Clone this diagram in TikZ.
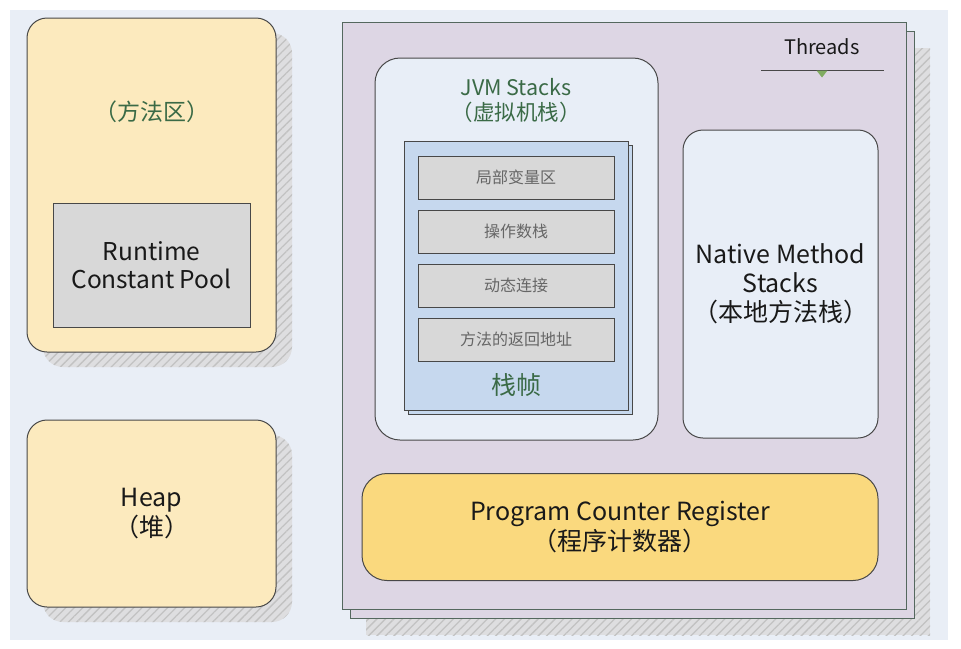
\documentclass[tikz,border=0pt]{standalone}
\usepackage{fontspec}
\setmainfont{Noto Sans CJK SC}
\usetikzlibrary{shadows,patterns.meta}
\definecolor{bgblue}{RGB}{233,238,246}
\definecolor{areayellow}{RGB}{252,234,190}
\definecolor{poolgray}{RGB}{216,216,216}
\definecolor{threadlilac}{RGB}{221,214,228}
\definecolor{stackwhite}{RGB}{232,238,247}
\definecolor{frameblue}{RGB}{198,216,238}
\definecolor{pcyellow}{RGB}{250,217,126}
\definecolor{labelgreen}{RGB}{58,106,70}
\definecolor{markgreen}{RGB}{128,172,96}
\definecolor{edgegray}{RGB}{72,72,72}
\definecolor{edgegreen}{RGB}{84,104,94}
\definecolor{hatchgray}{RGB}{222,222,224}

\begin{document}
\begin{tikzpicture}[x=1pt,y=-1pt,
  every node/.style={align=center,text=black!90,inner sep=0pt,font=\fontsize{25}{30}\selectfont},
  box/.style={draw=edgegray,line width=1pt},
  hatch/.style={general shadow={fill=hatchgray,#1},
    general shadow={pattern={Lines[angle=45,distance=6pt,line width=1.3pt]},pattern color=black!24,#1}},
  area/.style={box,fill=areayellow,rounded corners=20pt,hatch={shadow xshift=16pt,shadow yshift=-15pt}},
  threadbox/.style={draw=edgegreen,line width=1pt,fill=threadlilac,hatch={shadow xshift=24pt,shadow yshift=-26pt},
    copy shadow={shadow xshift=8pt,shadow yshift=-9pt}},
  stackbox/.style={box,fill=stackwhite,rounded corners=25pt},
  framebox/.style={box,fill=frameblue,copy shadow={shadow xshift=4pt,shadow yshift=-4pt}},
  slot/.style={box,fill=poolgray,minimum width=196pt,minimum height=43pt,text=black!60,font=\fontsize{16}{18}\selectfont},
  greenlabel/.style={text=labelgreen,font=\fontsize{23}{25}\selectfont}]
  \useasboundingbox (0,0) rectangle (961,648);
  \fill[bgblue] (10,10) rectangle (948,640);

  \node[area,minimum width=249pt,minimum height=334pt] (method) at (151.5,185) {};
  \node[greenlabel] (methodlbl) at (151.5,112) {（方法区）};
  \node[box,fill=poolgray,minimum width=197pt,minimum height=124pt,font=\fontsize{24.5}{28}\selectfont] (pool) at (151.5,265) {Runtime\\Constant Pool};
  \node[area,minimum width=249pt,minimum height=187pt] (heap) at (151.5,513.5) {Heap\\（堆）};

  \node[threadbox,minimum width=564pt,minimum height=587pt] (threads) at (624,315.5) {};
  \node[font=\fontsize{20}{22}\selectfont] (threadslbl) at (822,47) {Threads};
  \draw[edgegray,line width=1pt] (761,70) -- (884,70);
  \fill[markgreen] (816.5,70.5) -- (827.5,70.5) -- (822,77.5) -- cycle;

  \node[stackbox,minimum width=283pt,minimum height=382pt] (jvm) at (516.5,249) {};
  \node[greenlabel,font=\fontsize{21.5}{25}\selectfont] (jvmlbl) at (516,100) {JVM Stacks\\（虚拟机栈）};
  \node[framebox,minimum width=224pt,minimum height=269pt] (frame) at (516,275.5) {};
  \foreach \y/\t [count=\i] in {177.5/局部变量区,231.5/操作数栈,285.5/动态连接,339.5/方法的返回地址}
    \node[slot] (slot\i) at (516,\y) {\t};
  \node[greenlabel,font=\fontsize{25}{28}\selectfont] (framelbl) at (516,385) {栈帧};

  \node[stackbox,rounded corners=20pt,minimum width=195pt,minimum height=308pt,font=\fontsize{25}{29}\selectfont] (native) at (780.5,284) {Native Method\\Stacks\\（本地方法栈）};
  \node[box,fill=pcyellow,rounded corners=25pt,minimum width=516pt,minimum height=107pt] (pc) at (620,527) {Program Counter Register\\（程序计数器）};
\end{tikzpicture}
\end{document}
